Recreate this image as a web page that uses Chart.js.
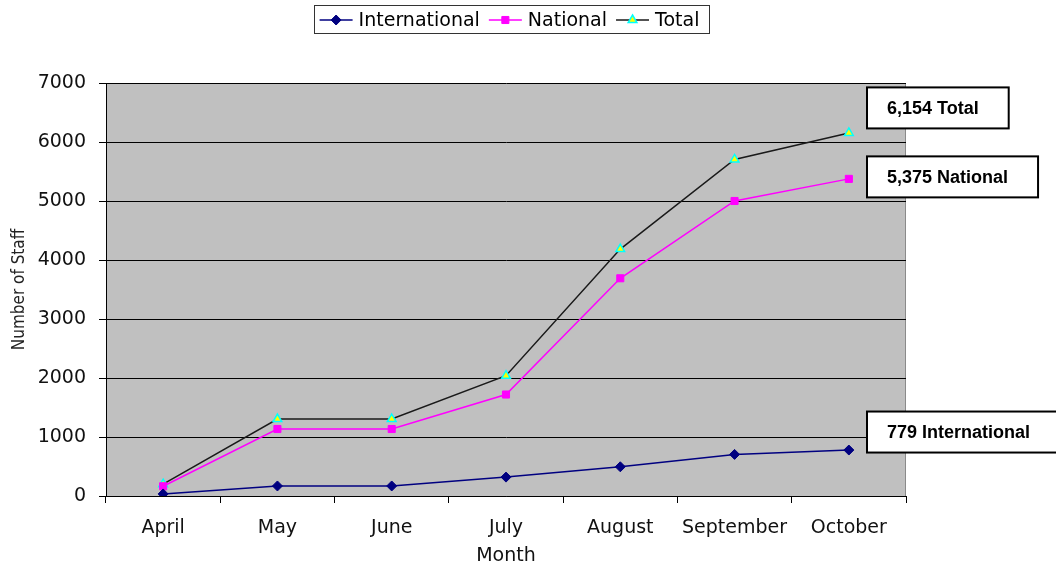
<!DOCTYPE html>
<html>
<head>
<meta charset="utf-8">
<title>Staff by Month</title>
<script src="https://cdn.jsdelivr.net/npm/chart.js@4.4.1/dist/chart.umd.min.js"></script>
<style>
  html, body { margin: 0; padding: 0; background: #fff; }
  #wrap { width: 1056px; height: 568px; }
</style>
</head>
<body>
<div id="wrap"><canvas id="staffChart"></canvas></div>
<script>
// Staff numbers per month
const months = ['April', 'May', 'June', 'July', 'August', 'September', 'October'];
const international = [35, 170, 170, 320, 495, 705, 779];
const national = [165, 1135, 1135, 1720, 3690, 5000, 5375];
const total = [200, 1305, 1305, 2040, 4185, 5705, 6154];
const yTicks = [0, 1000, 2000, 3000, 4000, 5000, 6000, 7000];

// vertical shift of each end-of-line label box, relative to the last point
const calloutShift = [-18, -2, -25];

const legendFont = '19px "DejaVu Sans", Verdana, sans-serif';
const tickFont = { family: '"DejaVu Sans", Verdana, sans-serif', size: 19 };

// Draw the legend (line + marker + name) inside a framed box above the plot
const boxLegend = {
    id: 'boxLegend',
    afterDraw(chart) {
        const ctx = chart.ctx;
        const area = chart.chartArea;
        ctx.save();
        ctx.font = legendFont;
        const items = chart.data.datasets.map(ds => ({ ds: ds, w: ctx.measureText(ds.label).width }));
        const lineW = 33, gap = 6, sep = 9;
        let width = 6;
        items.forEach(it => { width += lineW + gap + it.w + sep; });
        const left = (area.left + area.right) / 2 + 5 - width / 2;
        const top = 5, h = 28, cy = top + h / 2 + 1;
        ctx.strokeStyle = '#333';
        ctx.lineWidth = 1;
        ctx.strokeRect(Math.round(left) + 0.5, top + 0.5, Math.round(width), h);

        let x = left + 6;
        items.forEach(it => {
            ctx.strokeStyle = it.ds.borderColor;
            ctx.lineWidth = 1.5;
            ctx.beginPath();
            ctx.moveTo(x, cy);
            ctx.lineTo(x + lineW, cy);
            ctx.stroke();
            // marker in the dataset's point colours
            ctx.fillStyle = it.ds.pointBackgroundColor;
            ctx.strokeStyle = it.ds.pointBorderColor;
            ctx.lineWidth = it.ds.pointBorderWidth;
            Chart.helpers.drawPoint(ctx, {
                pointStyle: it.ds.pointStyle,
                radius: it.ds.pointRadius,
                borderWidth: it.ds.pointBorderWidth
            }, x + lineW / 2, cy);
            x += lineW + gap;
            ctx.fillStyle = '#000';
            ctx.textBaseline = 'middle';
            ctx.fillText(it.ds.label, x, cy + 1);
            x += it.w + sep;
        });
        ctx.restore();
    }
};

// Boxed value labels next to the last point of each line
const endCallouts = {
    id: 'endCallouts',
    afterDraw(chart) {
        const ctx = chart.ctx;
        const yScale = chart.scales.y;
        const area = chart.chartArea;
        ctx.save();
        ctx.font = 'bold 18px "Liberation Sans", Arial, sans-serif';
        chart.data.datasets.forEach((ds, i) => {
            const last = ds.data[ds.data.length - 1];
            const text = last.toLocaleString('en-US') + ' ' + ds.label;
            const cy = yScale.getPixelForValue(last) + calloutShift[i];
            const left = area.right - 39;
            const w = ctx.measureText(text).width + 50;
            const h = 41;
            ctx.fillStyle = '#fff';
            ctx.fillRect(left, cy - h / 2, w, h);
            ctx.strokeStyle = '#000';
            ctx.lineWidth = 2;
            ctx.strokeRect(left, cy - h / 2, w, h);
            ctx.fillStyle = '#000';
            ctx.textBaseline = 'middle';
            ctx.fillText(text, left + 20, cy + 1);
        });
        ctx.restore();
    }
};

// Grey plot background
const plotBackground = {
    id: 'plotBackground',
    beforeDraw(chart) {
        const a = chart.chartArea;
        const ctx = chart.ctx;
        ctx.save();
        ctx.fillStyle = '#c0c0c0';
        ctx.fillRect(a.left, a.top, a.right - a.left, a.bottom - a.top);
        ctx.strokeStyle = '#8a8a8a';
        ctx.lineWidth = 1;
        ctx.beginPath();
        ctx.moveTo(a.right - 0.5, a.top);
        ctx.lineTo(a.right - 0.5, a.bottom);
        ctx.stroke();
        ctx.restore();
    }
};

const ctx = document.getElementById('staffChart').getContext('2d');
const staffChart = new Chart(ctx, {
    type: 'line',
    data: {
        labels: months,
        datasets: [{
            label: 'International',
            data: international,
            borderColor: '#000080',
            backgroundColor: '#000080',
            borderWidth: 1.5,
            pointStyle: 'rectRot',
            pointRadius: 5,
            pointBorderWidth: 1,
            pointBorderColor: '#000080',
            pointBackgroundColor: '#000080'
        }, {
            label: 'National',
            data: national,
            borderColor: '#ff00ff',
            backgroundColor: '#ff00ff',
            borderWidth: 1.5,
            pointStyle: 'rect',
            pointRadius: 5,
            pointBorderWidth: 1,
            pointBorderColor: '#ff00ff',
            pointBackgroundColor: '#ff00ff'
        }, {
            label: 'Total',
            data: total,
            borderColor: '#1a1a1a',
            backgroundColor: '#ffff00',
            borderWidth: 1.5,
            pointStyle: 'triangle',
            pointRadius: 5,
            pointBorderWidth: 1.5,
            pointBorderColor: '#00ffff',
            pointBackgroundColor: '#ffff00'
        }]
    },
    options: {
        responsive: true,
        maintainAspectRatio: false,
        animation: false,
        layout: { padding: { top: 83, right: 150, bottom: 0, left: 0 } },
        plugins: {
            legend: { display: false },
            tooltip: { enabled: false }
        },
        scales: {
            x: {
                offset: true,
                grid: {
                    offset: true,
                    drawOnChartArea: false,
                    color: '#000',
                    tickLength: 7
                },
                border: { color: '#000', width: 1 },
                ticks: { color: '#111', font: tickFont, padding: 14, maxRotation: 0 },
                title: {
                    display: true,
                    text: 'Month',
                    color: '#111',
                    font: tickFont,
                    padding: { top: 0, bottom: 1 }
                },
                afterFit(scale) { scale.height = 72; }
            },
            y: {
                min: 0,
                max: 7000,
                afterBuildTicks(scale) { scale.ticks = yTicks.map(v => ({ value: v })); },
                grid: { color: '#000', tickLength: 7, lineWidth: 1 },
                border: { color: '#000', width: 1 },
                ticks: {
                    color: '#111',
                    font: tickFont,
                    padding: 13,
                    callback: v => String(v)
                },
                title: {
                    display: true,
                    text: 'Number of Staff',
                    color: '#222',
                    font: { family: '"DejaVu Sans Condensed", "DejaVu Sans", sans-serif', size: 17 },
                    padding: { top: 9, bottom: 0 }
                },
                afterFit(scale) { scale.width = 106; }
            }
        }
    },
    plugins: [plotBackground, boxLegend, endCallouts]
});
</script>
</body>
</html>
